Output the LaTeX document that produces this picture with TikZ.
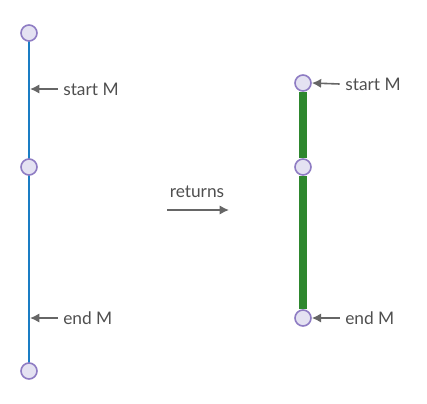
\documentclass[tikz,border=0pt]{standalone}
\usepackage{fontspec}
\setmainfont{Lato}
\definecolor{lineblue}{HTML}{1A7DC4}
\definecolor{linegreen}{HTML}{2E872E}
\definecolor{vfill}{HTML}{E4E2F2}
\definecolor{vdraw}{HTML}{8E7CC3}
\definecolor{txtgray}{HTML}{4F4F4F}
\definecolor{ptrgray}{HTML}{666666}
\tikzset{
  vertex/.style={circle, draw=vdraw, fill=vfill, line width=1.2pt, minimum size=12pt, inner sep=0pt},
  lbl/.style={anchor=west, font=\fontsize{13}{15}\selectfont, text=txtgray, inner sep=0pt},
  pointer/.style={-{Latex[length=7pt,width=7pt]}, draw=ptrgray, line width=1.2pt}
}
\usetikzlibrary{arrows.meta}
\begin{document}
\begin{tikzpicture}[x=0.75pt, y=-0.75pt]
\useasboundingbox (0,0) rectangle (427,403);
% Input line
\draw[lineblue, line width=1.4pt] (29,33) -- (29,371);
\node[vertex] (a1) at (29,33) {};
\node[vertex] (a2) at (29,167) {};
\node[vertex] (a3) at (29,371) {};
\node[lbl] (sl) at (63,89) {start M};
\node[lbl] (el) at (63,318) {end M};
\coordinate (sM) at (30,89);
\coordinate (eM) at (30,318);
\draw[pointer] ([xshift=-4pt]sl.west) -- (sM);
\draw[pointer] ([xshift=-4pt]el.west) -- (eM);
% returns
\node[lbl, anchor=center] (ret) at (197,192) {returns};
\coordinate (r0) at (167,210);
\coordinate (r1) at (229,210);
\draw[pointer] (r0) -- (r1);
% Result
\node[vertex] (b1) at (303,83) {};
\node[vertex] (b2) at (303,167) {};
\node[vertex] (b3) at (303,318) {};
\draw[linegreen, line width=6pt] (b1) -- (b2) -- (b3);
\node[lbl] (sr) at (345,84) {start M};
\node[lbl] (er) at (345,318) {end M};
\draw[pointer] ([xshift=-4pt]sr.west) -- (b1.east);
\draw[pointer] ([xshift=-4pt]er.west) -- (b3.east);
\end{tikzpicture}
\end{document}
